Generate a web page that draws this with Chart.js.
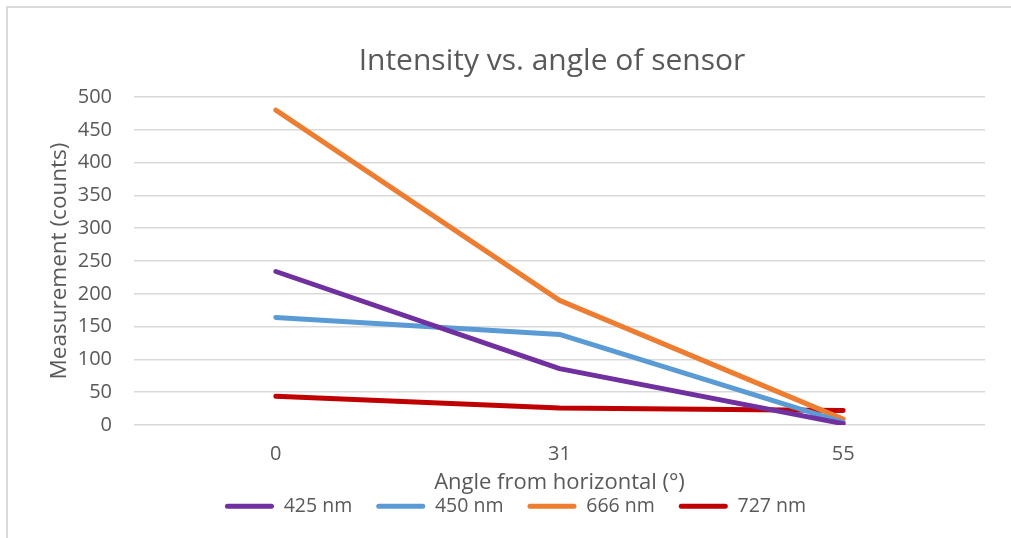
<!DOCTYPE html>
<html>
<head>
<meta charset="utf-8">
<script src="https://cdn.jsdelivr.net/npm/chart.js@4.4.1/dist/chart.umd.min.js"></script>
<style>
  html, body { margin: 0; padding: 0; background: #ffffff; overflow: hidden; }
  #wrap { position: relative; width: 1011px; height: 538px; }
  #frame { position: absolute; left: 6px; top: 6px; width: 1020px; height: 560px;
           border: 2px solid #d9d9d9; box-sizing: border-box; pointer-events: none; }
  canvas { position: absolute; left: 0; top: 0; }
</style>
</head>
<body>
<div id="wrap">
  <canvas id="chart" width="1011" height="538"></canvas>
  <div id="frame"></div>
</div>
<script>
// Angles (degrees from horizontal) on the category axis
const angles = ['0', '31', '55'];

// Measured counts for each wavelength
const nm425 = [234, 86, 2];
const nm450 = [164, 138, 4];
const nm666 = [480, 190, 9];
const nm727 = [44, 26, 22];

const seriesNames = ['425 nm', '450 nm', '666 nm', '727 nm'];
const seriesColors = ['#7030A0', '#5B9BD5', '#ED7D31', '#C00000'];

const yTicks = { min: 0, max: 500, step: 50 };

const chartTitle = 'Intensity vs. angle of sensor';
const xTitle = 'Angle from horizontal (°)';
const yTitle = 'Measurement (counts)';

const FONT = "'Open Sans', 'Noto Sans', sans-serif";
const TEXT = '#595959';

// Page geometry of the plotting area
const PAD_LEFT = 46;
const PAD_BOTTOM = 12;
const PLOT_LEFT = 134;
const PLOT_BOTTOM = 425;
const X_TITLE_MID = 483;
const X_TITLE_SIZE = 22;
const LEGEND_FONT = 19.5;
const LEGEND_PAD = 24;
// legend block height as laid out by Chart.js: item height + padding + 10
const LEGEND_TOP = 538 - PAD_BOTTOM - (LEGEND_FONT + LEGEND_PAD + 10);

const seriesValues = [nm425, nm450, nm666, nm727];
const datasets = seriesValues.map((vals, i) => ({
  label: seriesNames[i],
  data: vals,
  borderColor: seriesColors[i],
  backgroundColor: seriesColors[i],
  borderWidth: 5,
  borderCapStyle: 'round',
  borderJoinStyle: 'round',
  pointRadius: 0,
  pointHoverRadius: 0,
  tension: 0,
  fill: false
}));

// Title drawn centred over the plotting area
const titlePlugin = {
  id: 'centredTitle',
  afterDraw(chart) {
    const ctx = chart.ctx;
    ctx.save();
    ctx.font = "30px " + FONT;
    ctx.fillStyle = TEXT;
    ctx.textAlign = 'center';
    ctx.textBaseline = 'middle';
    ctx.fillText(chartTitle, 552, 61);
    ctx.restore();
  }
};

new Chart(document.getElementById('chart'), {
  type: 'line',
  data: { labels: angles, datasets },
  plugins: [titlePlugin],
  options: {
    responsive: false,
    animation: false,
    events: [],
    layout: { padding: { top: 97, left: PAD_LEFT, right: 26, bottom: PAD_BOTTOM } },
    plugins: {
      title: { display: false },
      tooltip: { enabled: false },
      legend: {
        position: 'bottom',
        labels: {
          boxWidth: 49,
          boxHeight: 5,
          useBorderRadius: true,
          borderRadius: 2.5,
          padding: LEGEND_PAD,
          color: TEXT,
          font: { family: FONT, size: LEGEND_FONT },
          // legend keys as plain thin strokes, no outline
          generateLabels(chart) {
            const items = Chart.defaults.plugins.legend.labels.generateLabels(chart);
            return items.map(it => Object.assign(it, { lineWidth: 0 }));
          }
        }
      }
    },
    scales: {
      x: {
        offset: true,
        grid: { display: false, drawTicks: false },
        border: { display: false },
        ticks: { color: TEXT, font: { family: FONT, size: 20 }, padding: 17 },
        title: {
          display: true, text: xTitle, color: TEXT,
          font: { family: FONT, size: X_TITLE_SIZE },
          // axis title sits below the scale box, just above the legend
          padding: { top: 0, bottom: LEGEND_TOP - X_TITLE_MID - X_TITLE_SIZE * 0.6 }
        },
        afterFit(scale) { scale.height = LEGEND_TOP - PLOT_BOTTOM; }
      },
      y: {
        min: yTicks.min,
        max: yTicks.max,
        grid: { color: '#d9d9d9', lineWidth: 1.5, drawTicks: false },
        border: { display: false },
        ticks: { stepSize: yTicks.step, color: TEXT, font: { family: FONT, size: 20 }, padding: 22 },
        title: {
          display: true, text: yTitle, color: TEXT,
          font: { family: FONT, size: 22.5 }, padding: { top: 0, bottom: 0 }
        },
        afterFit(scale) { scale.width = PLOT_LEFT - PAD_LEFT; }
      }
    }
  }
});
</script>
</body>
</html>
